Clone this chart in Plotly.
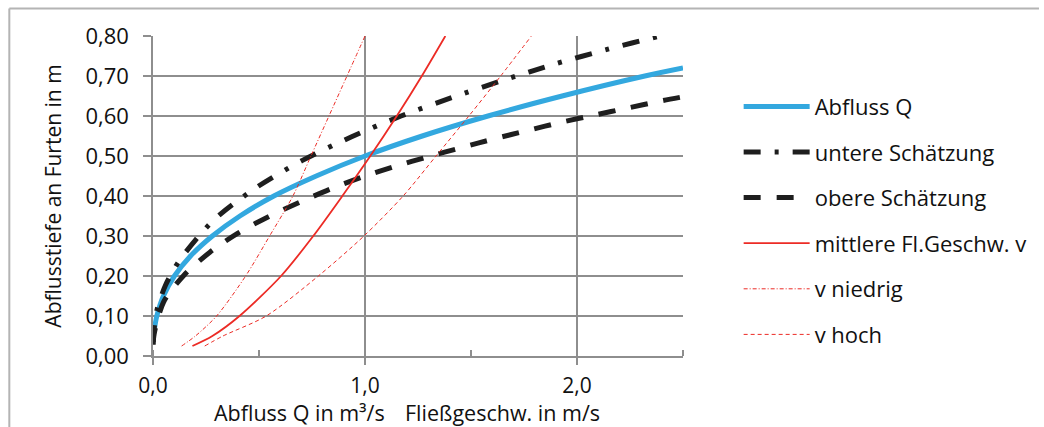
import plotly.graph_objects as go

# ---- data ----
# Abfluss Q (x = discharge m3/s, y = depth m)
q_abfluss = [0.006, 0.018, 0.049, 0.101, 0.177, 0.28, 0.41, 0.57, 0.77, 1.0, 1.27, 1.58, 1.93, 2.32, 2.5]
h_abfluss = [0.065, 0.10, 0.15, 0.20, 0.25, 0.30, 0.35, 0.40, 0.45, 0.50, 0.55, 0.60, 0.65, 0.70, 0.72]

# untere Schätzung
q_untere = [0.001, 0.005, 0.02, 0.06, 0.124, 0.283, 0.487, 0.705, 0.937, 1.17, 1.41, 1.65, 1.895, 2.146, 2.39, 2.5]
h_untere = [0.035, 0.067, 0.118, 0.178, 0.238, 0.338, 0.421, 0.489, 0.548, 0.60, 0.646, 0.689, 0.73, 0.767, 0.80, 0.815]

# obere Schätzung
q_obere = [0.001, 0.005, 0.05, 0.146, 0.27, 0.397, 0.54, 0.69, 0.84, 0.99, 1.144, 1.296, 1.455, 1.61, 1.77, 1.93, 2.08, 2.24, 2.40, 2.5]
h_obere = [0.028, 0.054, 0.135, 0.202, 0.26, 0.306, 0.347, 0.384, 0.418, 0.448, 0.4745, 0.498, 0.521, 0.543, 0.564, 0.585, 0.602, 0.62, 0.638, 0.648]

# mittlere Fließgeschwindigkeit v (x = velocity m/s)
v_mittel = [0.186, 0.28, 0.408, 0.604, 0.756, 0.893, 1.025, 1.15, 1.268, 1.379]
h_mittel = [0.025, 0.05, 0.10, 0.20, 0.30, 0.40, 0.50, 0.60, 0.70, 0.80]

# v niedrig
v_niedrig = [0.135, 0.20, 0.30, 0.437, 0.55, 0.66, 0.745, 0.83, 0.915, 1.0]
h_niedrig = [0.025, 0.05, 0.10, 0.20, 0.30, 0.40, 0.50, 0.60, 0.70, 0.80]

# v hoch
v_hoch = [0.244, 0.33, 0.534, 0.78, 0.995, 1.18, 1.335, 1.49, 1.64, 1.785]
h_hoch = [0.025, 0.05, 0.10, 0.20, 0.30, 0.40, 0.50, 0.60, 0.70, 0.80]

x_tickvals = [0, 1, 2]
x_ticktext = ["0,0", "1,0", "2,0"]
y_tickvals = [0, 0.1, 0.2, 0.3, 0.4, 0.5, 0.6, 0.7, 0.8]
y_ticktext = ["0,00", "0,10", "0,20", "0,30", "0,40", "0,50", "0,60", "0,70", "0,80"]

names = ["Abfluss Q", "untere Schätzung", "obere Schätzung",
         "mittlere Fl.Geschw. v", "v niedrig", "v hoch"]

FONT = "Open Sans"
BLUE = "#33A8DF"
BLACK = "#1E1E1E"
RED = "#EC2B25"

fig = go.Figure()
series = [
    (q_abfluss, h_abfluss, dict(color=BLUE, width=5, dash="solid")),
    (q_untere, h_untere, dict(color=BLACK, width=5, dash="17px,14px,4px,14px")),
    (q_obere, h_obere, dict(color=BLACK, width=5, dash="17px,16px")),
    (v_mittel, h_mittel, dict(color=RED, width=1.8, dash="solid")),
    (v_niedrig, h_niedrig, dict(color=RED, width=1, dash="4px,2px,1px,2px")),
    (v_hoch, h_hoch, dict(color=RED, width=1, dash="4px,3px")),
]
for i, (xs, ys, ln) in enumerate(series):
    fig.add_trace(go.Scatter(
        x=xs, y=ys, mode="lines", name=names[i], legendgroup=names[i],
        line=dict(shape="spline", smoothing=0.8, **ln),
    ))

GRID = "#8E8E8E"
TXT = "#111111"
fig.update_layout(
    width=1044, height=427,
    margin=dict(l=153, r=358, t=36, b=71),
    paper_bgcolor="white", plot_bgcolor="white",
    font=dict(family=FONT, size=22, color=TXT),
    showlegend=True,
    legend=dict(
        x=1.105, y=0.845, xanchor="left", yanchor="top",
        font=dict(family=FONT, size=22, color=TXT),
        itemwidth=66, tracegroupgap=14, bgcolor="rgba(0,0,0,0)",
    ),
    xaxis=dict(
        range=[0, 2.5], tickvals=x_tickvals, ticktext=x_ticktext,
        showgrid=True, gridcolor=GRID, gridwidth=1.5,
        zeroline=False, showline=True, linecolor=GRID, linewidth=1.5,
        ticks="outside", ticklen=7, tickcolor=GRID, tickwidth=1.5,
        minor=dict(dtick=0.5, tick0=0, ticks="inside", ticklen=6, tickcolor=GRID, tickwidth=1.5, showgrid=False),
        tickfont=dict(family=FONT, size=21, color=TXT),
        ticklabelstandoff=3,
    ),
    yaxis=dict(
        range=[0, 0.8], tickvals=y_tickvals, ticktext=y_ticktext,
        showgrid=True, gridcolor=GRID, gridwidth=1.5,
        zeroline=False, showline=True, linecolor=GRID, linewidth=1.5,
        ticks="outside", ticklen=8, tickcolor=GRID, tickwidth=1.5,
        tickfont=dict(family=FONT, size=22, color=TXT),
        ticklabelstandoff=10,
        title=dict(text="Abflusstiefe an Furten in m", font=dict(family=FONT, size=21, color=TXT), standoff=18),
    ),
)

# x axis title, two parts
fig.add_annotation(text="Abfluss Q in m³/s", xref="paper", yref="paper",
                   x=(213 - 153) / 533, y=(356 - 412) / 320, xanchor="left", yanchor="middle",
                   showarrow=False, font=dict(family=FONT, size=21.5, color=TXT), borderpad=0)
fig.add_annotation(text="Fließgeschw. in m/s", xref="paper", yref="paper",
                   x=(405 - 153) / 533, y=(356 - 412) / 320, xanchor="left", yanchor="middle",
                   showarrow=False, font=dict(family=FONT, size=21.5, color=TXT), borderpad=0)

# chart frame (top and left edges visible)
FRAME = "#B4B4B4"
fig.add_shape(type="line", xref="paper", yref="paper",
              x0=(8.5 - 153) / 533, x1=(1044 - 153) / 533, y0=(356 - 8.5) / 320, y1=(356 - 8.5) / 320,
              line=dict(color=FRAME, width=2))
fig.add_shape(type="line", xref="paper", yref="paper",
              x0=(8.5 - 153) / 533, x1=(8.5 - 153) / 533, y0=(356 - 8.5) / 320, y1=(356 - 430) / 320,
              line=dict(color=FRAME, width=2))

fig.write_html("out.html")
